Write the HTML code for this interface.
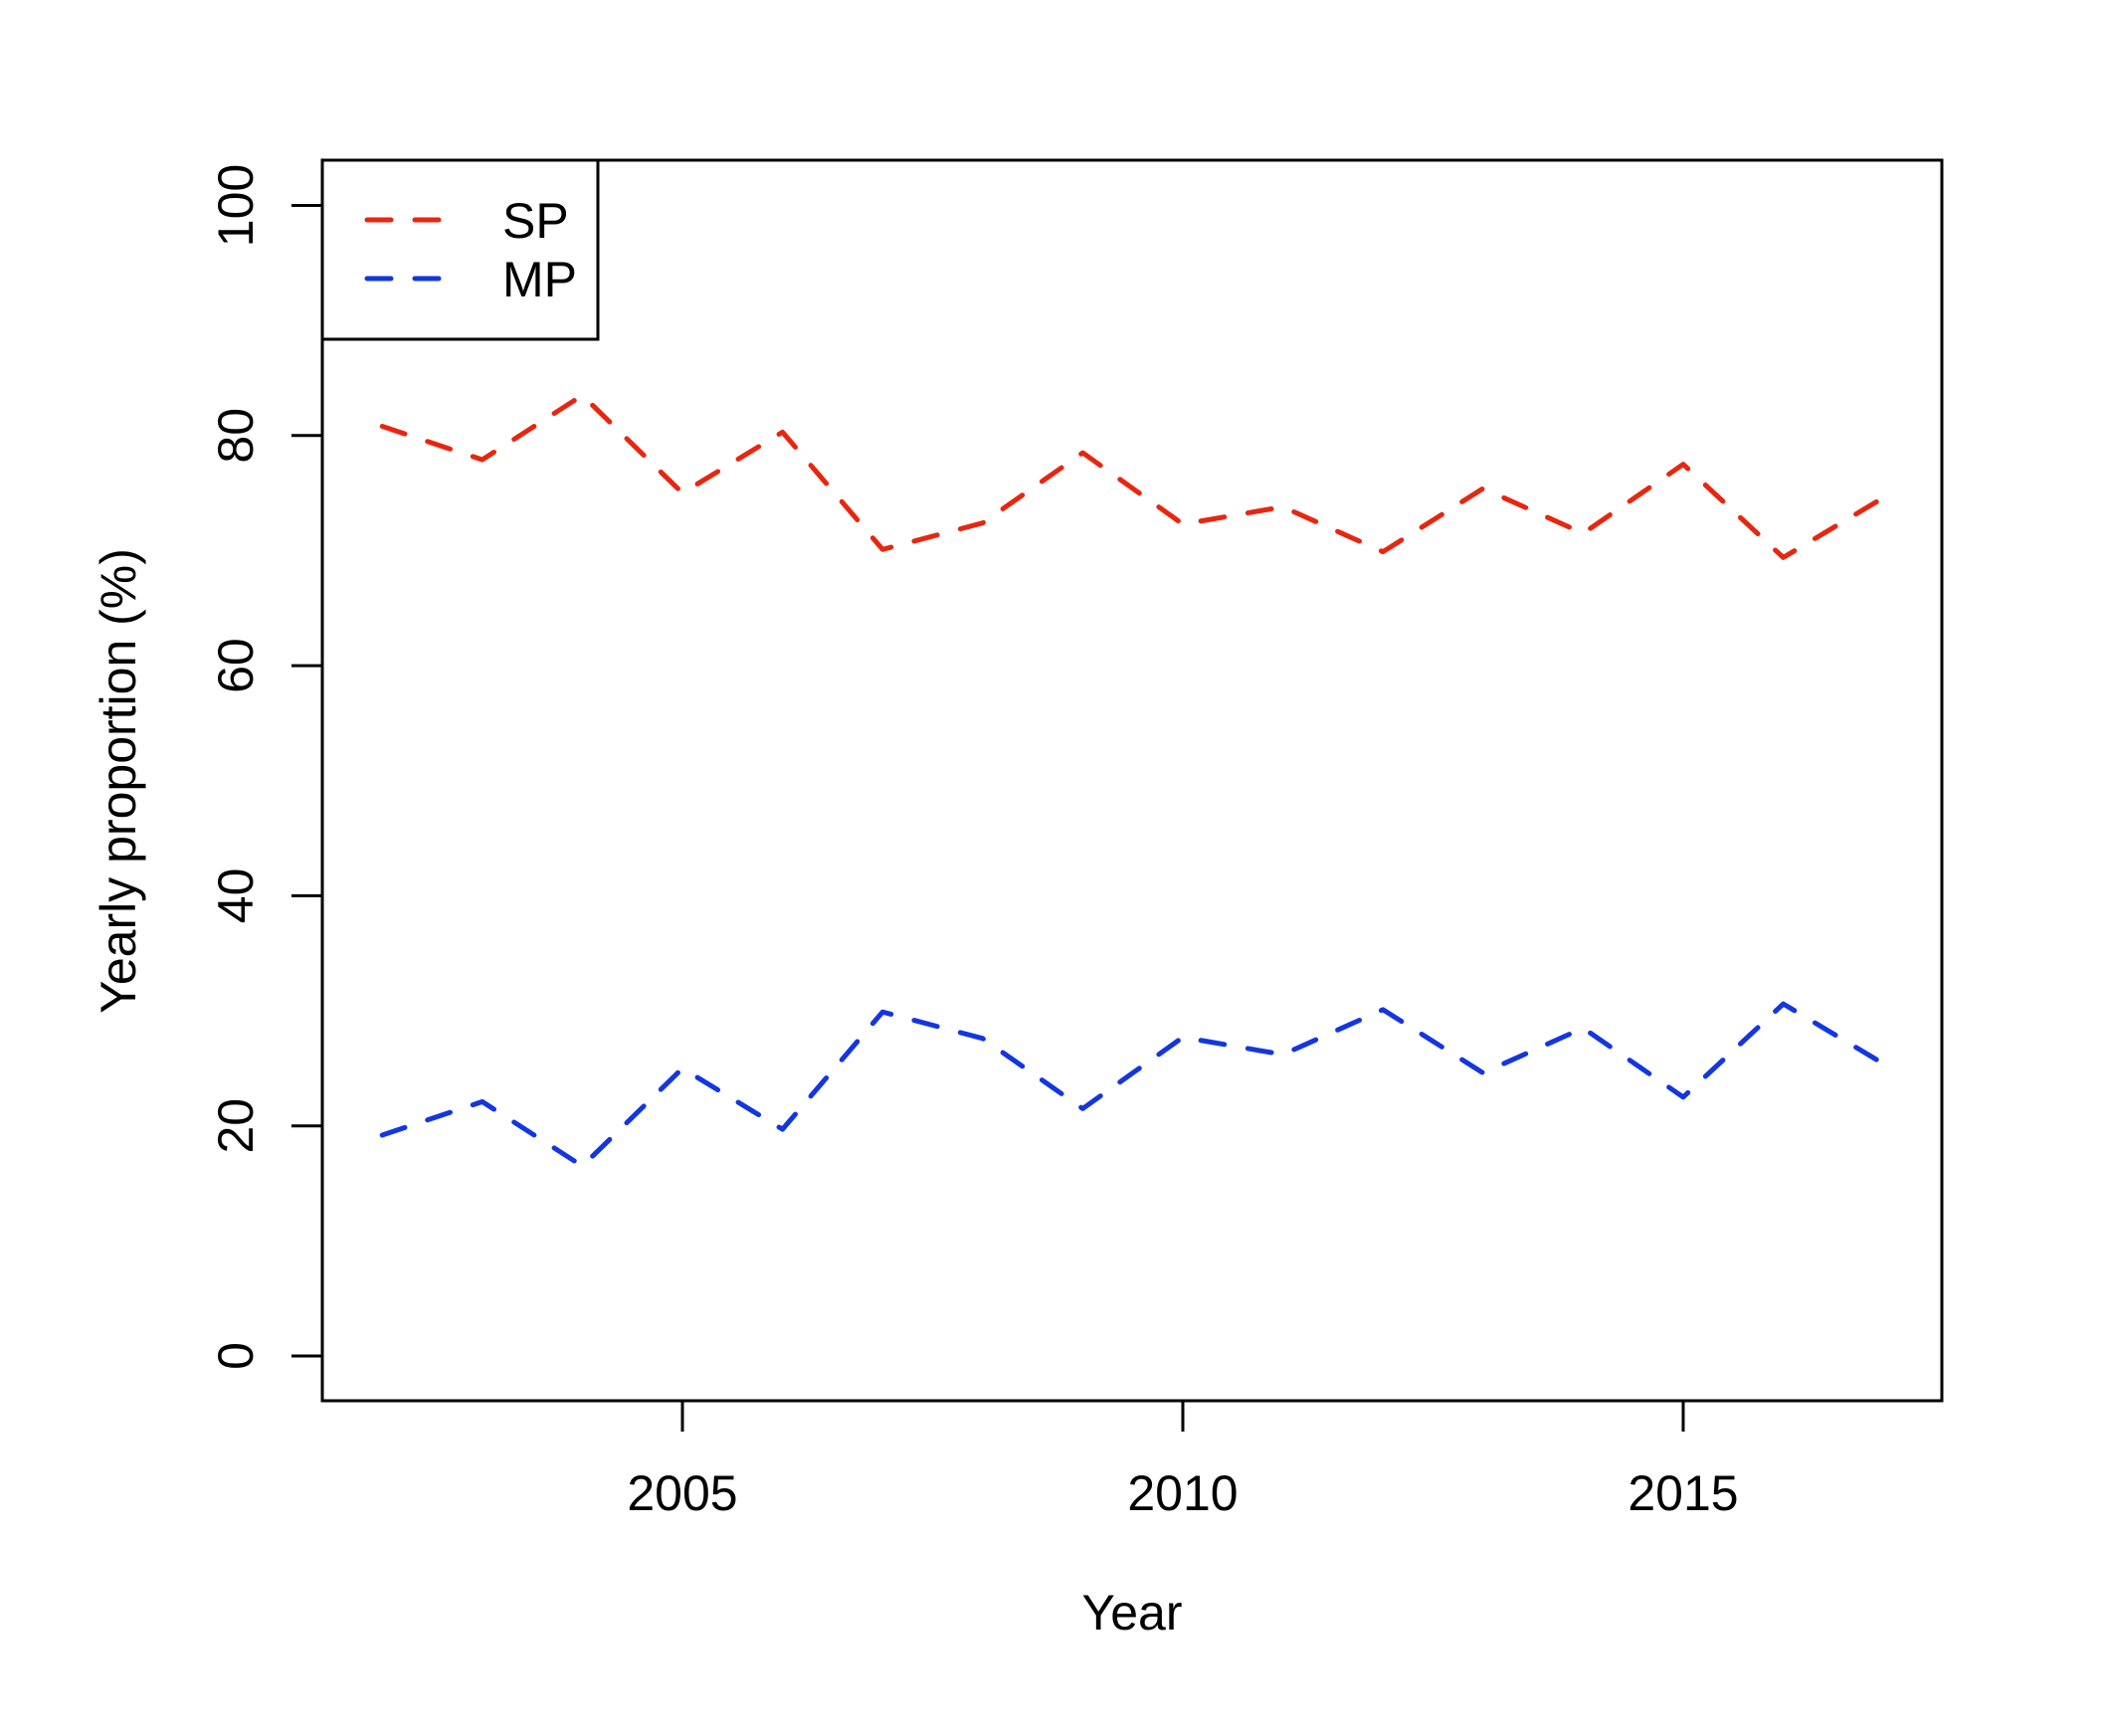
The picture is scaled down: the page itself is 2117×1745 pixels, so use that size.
<!DOCTYPE html>
<html><head><meta charset="utf-8"><style>
html,body{margin:0;padding:0;background:#fff;}
svg{display:block;font-family:"Liberation Sans",Arial,sans-serif;}
</style></head><body>
<svg id="chart" width="2117" height="1745" viewBox="0 0 2117 1745">
<rect x="0" y="0" width="2117" height="1745" fill="#fff"/>
<g id="axes"></g>
<g id="series"></g>
<g id="legend">
<rect x="324" y="161" width="277" height="180" fill="#fff" stroke="#000" stroke-width="3"/>
<line x1="369" y1="221" x2="441" y2="221" stroke="#e8260f" stroke-width="5" stroke-linecap="round" stroke-dasharray="24 24"/>
<text x="505" y="239" font-size="50">SP</text>
<line x1="369" y1="280" x2="441" y2="280" stroke="#1336e0" stroke-width="5" stroke-linecap="round" stroke-dasharray="24 24"/>
<text x="505" y="298" font-size="50">MP</text>
</g>
</svg>
<script>
const years = [2002,2003,2004,2005,2006,2007,2008,2009,2010,2011,2012,2013,2014,2015,2016,2017];
const spValues = [80.8,77.9,83.5,75.0,80.3,70.1,72.4,78.5,72.3,73.8,69.9,75.4,71.5,77.5,69.4,74.6];
const mpValues = [19.2,22.1,16.5,25.0,19.7,29.9,27.6,21.5,27.7,26.2,30.1,24.6,28.5,22.5,30.6,25.4];
const xTicks = [2005,2010,2015];
const yTicks = [0,20,40,60,80,100];

const NS = "http://www.w3.org/2000/svg";
const plot = {left:324, top:161, right:1952, bottom:1408};
function xScale(v){ return 686 + (v - 2005) * 100.6; }
function yScale(v){ return 1363 - v * 11.565; }
function mk(tag, attrs, parent){
  const el = document.createElementNS(NS, tag);
  for (const k in attrs) el.setAttribute(k, attrs[k]);
  parent.appendChild(el);
  return el;
}
const axes = document.getElementById('axes');
const frame = mk('rect', {x:plot.left, y:plot.top, width:plot.right-plot.left, height:plot.bottom-plot.top, fill:'none', stroke:'#000', 'stroke-width':3}, axes);


xTicks.forEach(t => {
  const x = xScale(t);
  const tk = mk('line', {x1:x, y1:plot.bottom, x2:x, y2:plot.bottom+31, stroke:'#000', 'stroke-width':3}, axes);
  
  
  const lb = mk('text', {x:x, y:1518, 'font-size':50, 'text-anchor':'middle'}, axes);
  lb.textContent = t;
  
  
});
yTicks.forEach(t => {
  const y = yScale(t);
  const tk = mk('line', {x1:plot.left-31, y1:y, x2:plot.left, y2:y, stroke:'#000', 'stroke-width':3}, axes);
  
  
  const lb = mk('text', {x:0, y:0, 'font-size':50, 'text-anchor':'middle', transform:'translate(254,' + y + ') rotate(-90)'}, axes);
  lb.textContent = t;
  
  
});
const xt = mk('text', {x:1138, y:1638, 'font-size':50, 'text-anchor':'middle'}, axes);
xt.textContent = 'Year';


const yt = mk('text', {x:0, y:0, 'font-size':50, 'text-anchor':'middle', transform:'translate(136,785) rotate(-90)'}, axes);
yt.textContent = 'Yearly proportion (%)';



const series = document.getElementById('series');
function drawLine(vals, color, name){
  const pts = years.map((yr, i) => xScale(yr) + ',' + yScale(vals[i])).join(' ');
  const pl = mk('polyline', {points:pts, fill:'none', stroke:color, 'stroke-width':5, 'stroke-linecap':'round', 'stroke-linejoin':'round', 'stroke-dasharray':'24 24'}, series);
  
  
}
drawLine(spValues, '#e8260f', 'sp-line');
drawLine(mpValues, '#1336e0', 'mp-line');
</script>
</body></html>
